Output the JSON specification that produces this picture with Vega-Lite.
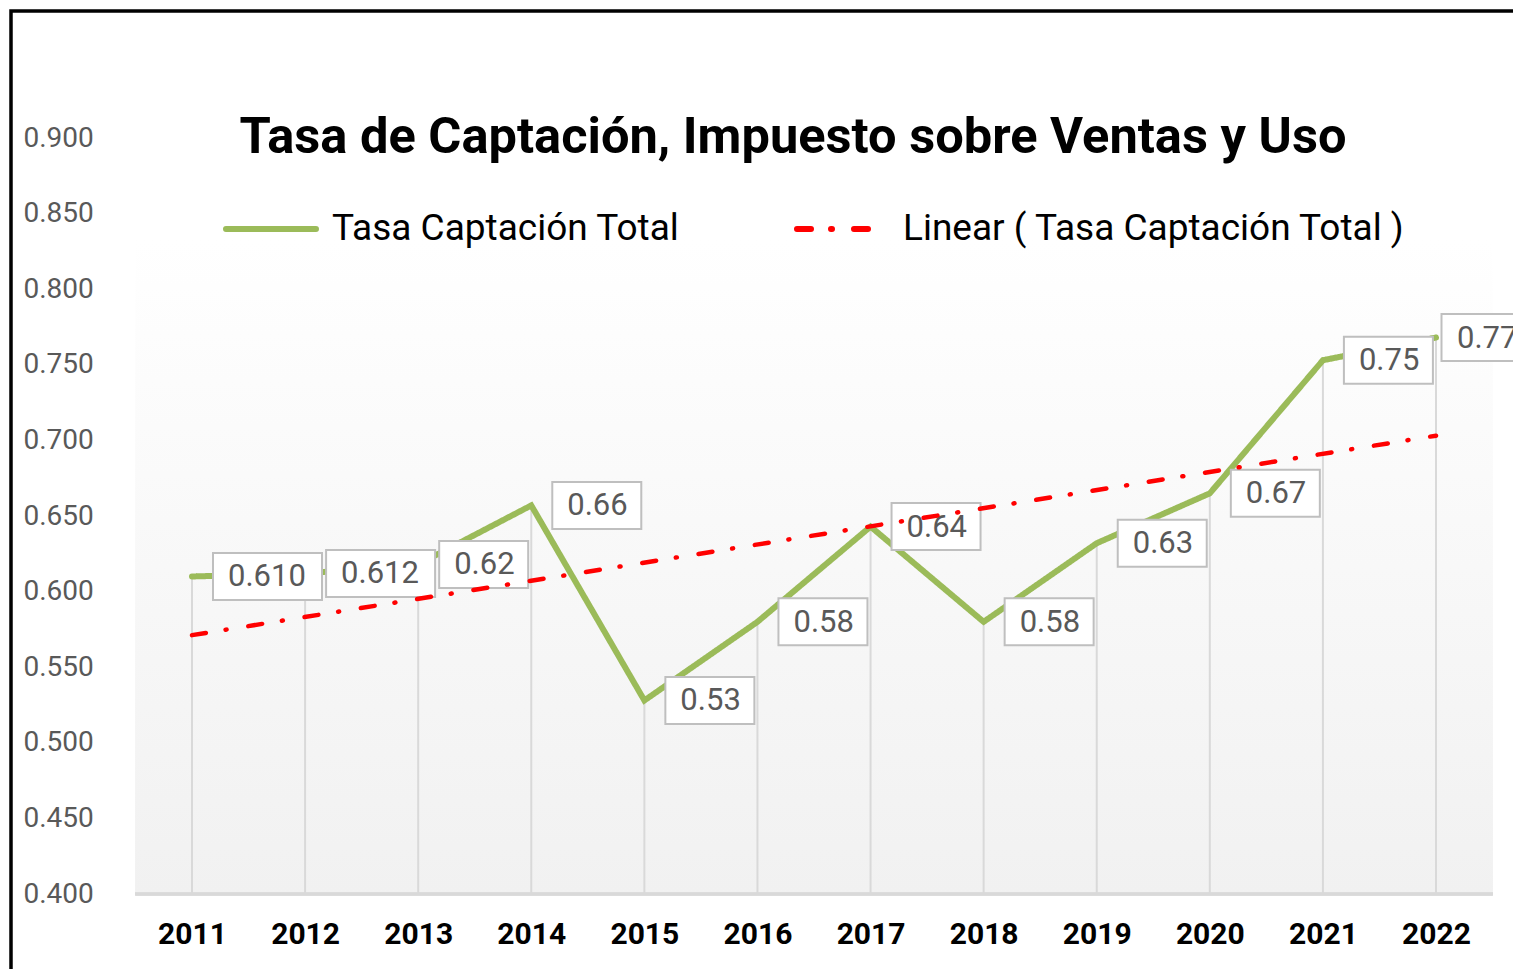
{
  "$schema": "https://vega.github.io/schema/vega-lite/v6.json",
  "autosize": {"type": "none"},
  "padding": {"left": 11, "top": 11, "right": 0, "bottom": 0},
  "width": 1520,
  "height": 970,
  "background": "white",
  "config": {
    "view": {"stroke": "#000000", "strokeWidth": 3.5},
    "font": "Roboto"
  },
  "title": {
    "text": "Tasa de Captación, Impuesto sobre Ventas y Uso",
    "font": "Roboto",
    "fontSize": 50.6,
    "fontWeight": "bold",
    "color": "#000000",
    "anchor": "middle",
    "frame": "group",
    "baseline": "alphabetic",
    "offset": -193,
    "dx": 22
  },
  "data": {
    "values": [
      {"year": 2011, "value": 0.610, "label": "0.610"},
      {"year": 2012, "value": 0.612, "label": "0.612"},
      {"year": 2013, "value": 0.618, "label": "0.62"},
      {"year": 2014, "value": 0.657, "label": "0.66"},
      {"year": 2015, "value": 0.528, "label": "0.53"},
      {"year": 2016, "value": 0.580, "label": "0.58"},
      {"year": 2017, "value": 0.643, "label": "0.64"},
      {"year": 2018, "value": 0.580, "label": "0.58"},
      {"year": 2019, "value": 0.632, "label": "0.63"},
      {"year": 2020, "value": 0.665, "label": "0.67"},
      {"year": 2021, "value": 0.753, "label": "0.75"},
      {"year": 2022, "value": 0.768, "label": "0.77"}
    ]
  },
  "encoding": {
    "x": {
      "field": "year",
      "type": "quantitative",
      "scale": {"domain": [2009.3995, 2022.84], "nice": false, "zero": false},
      "axis": {
        "orient": "bottom",
        "offset": -87,
        "values": [2011, 2012, 2013, 2014, 2015, 2016, 2017, 2018, 2019, 2020, 2021, 2022],
        "format": "d",
        "title": null,
        "grid": false,
        "domain": false,
        "ticks": false,
        "labelPadding": 25,
        "labelFont": "Roboto",
        "labelFontSize": 30,
        "labelFontWeight": "bold",
        "labelColor": "#000000",
        "labelFlush": false
      }
    },
    "y": {
      "field": "value",
      "type": "quantitative",
      "scale": {"domain": [0.342461, 0.983995], "nice": false, "zero": false},
      "axis": {
        "orient": "left",
        "values": [0.4, 0.45, 0.5, 0.55, 0.6, 0.65, 0.7, 0.75, 0.8, 0.85, 0.9],
        "format": ".3f",
        "title": null,
        "grid": false,
        "domain": false,
        "ticks": false,
        "labelAlign": "left",
        "labelPadding": -12,
        "labelFont": "Roboto",
        "labelFontSize": 28,
        "labelColor": "#595959",
        "labelFlush": false
      }
    }
  },
  "layer": [
    {
      "mark": {
        "type": "rect",
        "fill": {
          "gradient": "linear",
          "x1": 0, "y1": 0, "x2": 0, "y2": 1,
          "stops": [
            {"offset": 0, "color": "#FFFFFF"},
            {"offset": 1, "color": "#F1F1F1"}
          ]
        }
      },
      "encoding": {
        "x": {"datum": 2010.5, "type": "quantitative"},
        "x2": {"datum": 2022.5},
        "y": {"datum": 0.4, "type": "quantitative"},
        "y2": {"datum": 0.8325}
      }
    },
    {
      "mark": {"type": "rule", "color": "#D9D9D9", "strokeWidth": 2.5},
      "encoding": {
        "x": {"datum": 2010.5, "type": "quantitative"},
        "x2": {"datum": 2022.5},
        "y": {"datum": 0.4, "type": "quantitative"}
      }
    },
    {
      "mark": {"type": "rule", "color": "#D9D9D9", "strokeWidth": 2},
      "encoding": {
        "y2": {"datum": 0.4}
      }
    },
    {
      "mark": {"type": "line", "strokeWidth": 6, "strokeCap": "round", "strokeJoin": "miter"},
      "encoding": {
        "color": {
          "datum": "Tasa Captación Total",
          "type": "nominal",
          "scale": {
            "domain": ["Tasa Captación Total", "Linear ( Tasa Captación Total )"],
            "range": ["#9BBB59", "#FF0000"]
          },
          "legend": {
            "title": null,
            "orient": "none",
            "legendX": 212,
            "legendY": 170,
            "direction": "horizontal",
            "symbolType": "stroke",
            "symbolSize": 8100,
            "symbolStrokeWidth": 6,
            "labelFont": "Roboto",
            "labelFontSize": 37,
            "labelColor": "#000000",
            "labelOffset": 13,
            "labelLimit": 1000,
            "columnPadding": 105,
            "padding": 0,
            "encode": {"symbols": {"update": {"strokeCap": {"value": "round"}}}}
          }
        },
        "strokeDash": {
          "datum": "Tasa Captación Total",
          "type": "nominal",
          "scale": {
            "domain": ["Tasa Captación Total", "Linear ( Tasa Captación Total )"],
            "range": [[1, 0], [14, 20, 1, 22]]
          },
          "legend": {
            "title": null,
            "orient": "none",
            "legendX": 212,
            "legendY": 170,
            "direction": "horizontal",
            "symbolType": "stroke",
            "symbolSize": 8100,
            "symbolStrokeWidth": 6,
            "labelFont": "Roboto",
            "labelFontSize": 37,
            "labelColor": "#000000",
            "labelOffset": 13,
            "labelLimit": 1000,
            "columnPadding": 105,
            "padding": 0,
            "encode": {"symbols": {"update": {"strokeCap": {"value": "round"}}}}
          }
        }
      }
    },
    {
      "transform": [{"filter": "length(datum.label) == 5"}],
      "mark": {"type": "rect", "width": 109, "height": 47, "xOffset": 75.5, "fill": "#FFFFFF", "stroke": "#BFBFBF", "strokeWidth": 2}
    },
    {
      "transform": [{"filter": "length(datum.label) == 4 && datum.year < 2022"}],
      "mark": {"type": "rect", "width": 89, "height": 47, "xOffset": 65.5, "fill": "#FFFFFF", "stroke": "#BFBFBF", "strokeWidth": 2}
    },
    {
      "transform": [{"filter": "datum.year == 2022"}],
      "mark": {"type": "rect", "width": 89, "height": 47, "xOffset": 50, "fill": "#FFFFFF", "stroke": "#BFBFBF", "strokeWidth": 2}
    },
    {
      "transform": [{"filter": "datum.year < 2022"}],
      "mark": {"type": "text", "align": "left", "baseline": "middle", "dx": 36, "dy": 1, "font": "Roboto", "fontSize": 31, "fill": "#595959"},
      "encoding": {
        "text": {"field": "label", "type": "nominal"}
      }
    },
    {
      "transform": [{"filter": "datum.year == 2022"}],
      "mark": {"type": "text", "align": "left", "baseline": "middle", "dx": 21, "dy": 1, "font": "Roboto", "fontSize": 31, "fill": "#595959"},
      "encoding": {
        "text": {"field": "label", "type": "nominal"}
      }
    },
    {
      "transform": [{"regression": "value", "on": "year", "method": "linear"}],
      "mark": {"type": "line", "strokeWidth": 4.5, "strokeCap": "round"},
      "encoding": {
        "color": {"datum": "Linear ( Tasa Captación Total )", "type": "nominal"},
        "strokeDash": {"datum": "Linear ( Tasa Captación Total )", "type": "nominal"}
      }
    }
  ]
}
